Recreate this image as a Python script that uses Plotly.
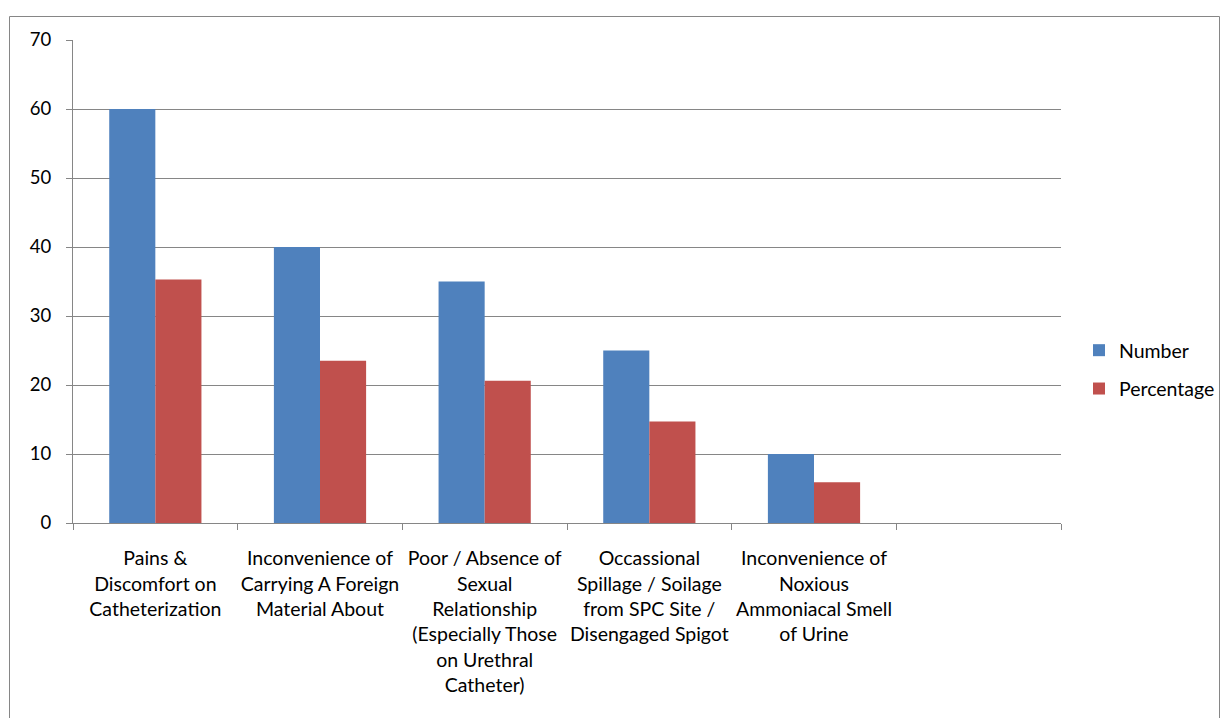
import plotly.graph_objects as go

categories = [
    "Pains &<br>Discomfort on<br>Catheterization",
    "Inconvenience of<br>Carrying A Foreign<br>Material About",
    "Poor / Absence of<br>Sexual<br>Relationship<br>(Especially Those<br>on Urethral<br>Catheter)",
    "Occassional<br>Spillage / Soilage<br>from SPC Site /<br>Disengaged Spigot",
    "Inconvenience of<br>Noxious<br>Ammoniacal Smell<br>of Urine",
    "",
]
number = [60, 40, 35, 25, 10, None]
percentage = [35.3, 23.5, 20.6, 14.7, 5.9, None]
y_ticks = [0, 10, 20, 30, 40, 50, 60, 70]

x_pos = list(range(len(categories)))
FONT = "Lato, Carlito, Calibri, sans-serif"
GRID = "#868686"

fig = go.Figure()
fig.add_trace(go.Bar(x=x_pos, y=number, name="Number", legendgroup="a",
                     marker=dict(color="#4F81BD", line=dict(width=0))))
fig.add_trace(go.Bar(x=x_pos, y=percentage, name="Percentage", legendgroup="b",
                     marker=dict(color="#C0504D", line=dict(width=0))))

L, R, T, B = 73, 1061, 40, 523
W, H = 1222, 718
pw, ph = R - L, B - T

def px_x(v):
    return (v - L) / pw

def px_y(v):
    return (B - v) / ph

fig.update_layout(
    width=W, height=H,
    margin=dict(l=L, r=W - R, t=T, b=H - B, pad=0, autoexpand=False),
    paper_bgcolor="white", plot_bgcolor="white",
    barmode="group", bargap=0.44, bargroupgap=0,
    font=dict(family=FONT, size=19.5, color="black"),
    legend=dict(xref="container", yref="container",
                x=1079 / W, y=1 - 331 / H, xanchor="left", yanchor="top",
                bgcolor="rgba(0,0,0,0)",
                traceorder="grouped", tracegroupgap=10,
                font=dict(size=19.5, family=FONT, color="black")),
    xaxis=dict(
        range=[-0.5, len(categories) - 0.5],
        tickvals=x_pos, ticktext=categories, ticks="",
        ticklabelstandoff=18,
        showgrid=False, zeroline=False,
        showline=True, linecolor=GRID, linewidth=1,
        minor=dict(tick0=-0.5, dtick=1, ticks="outside", ticklen=6,
                   tickcolor=GRID, tickwidth=1, showgrid=False),
        tickfont=dict(size=19.5, family=FONT, color="black"),
    ),
    yaxis=dict(
        range=[0, 70], tickvals=y_ticks, ticks="outside", ticklen=6,
        tickcolor=GRID, showgrid=True, gridcolor=GRID, gridwidth=1,
        showline=True, linecolor=GRID, linewidth=1, zeroline=False,
        ticklabelstandoff=11,
        tickfont=dict(size=18.5, family=FONT, color="black"),
    ),
    shapes=[dict(type="rect", xref="paper", yref="paper",
                 x0=px_x(9.5), x1=px_x(1219.5), y0=px_y(730), y1=px_y(16.5),
                 line=dict(color=GRID, width=1), fillcolor="rgba(0,0,0,0)",
                 layer="below")],
)

fig.write_html("out.html")
